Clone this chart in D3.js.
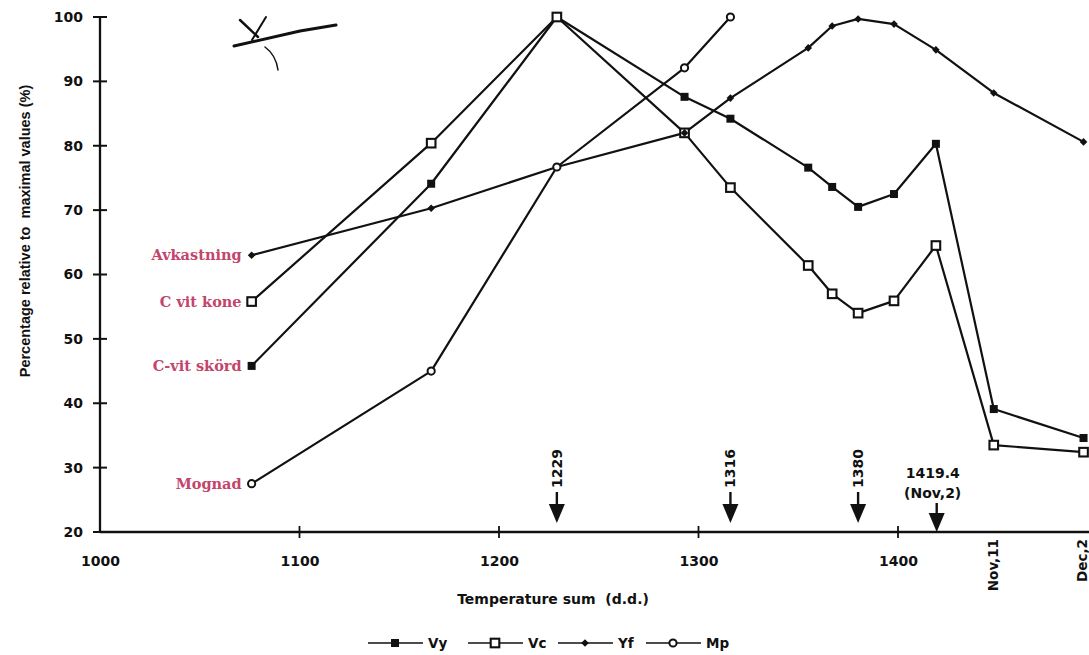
<!DOCTYPE html>
<html>
<head>
<meta charset="utf-8">
<script src="https://cdn.jsdelivr.net/npm/d3@7/dist/d3.min.js"></script>
<style>
  html, body { margin: 0; padding: 0; background: #ffffff; }
  svg { display: block; }
  text { font-weight: bold; fill: #111; white-space: pre; }
</style>
</head>
<body>
<svg id="chart" width="1089" height="655"></svg>
<script>
// ---------- data ----------
const tempSums   = [1076, 1166, 1229, 1293, 1316, 1355, 1367, 1380, 1398, 1419, 1448, 1493];
const vyValues   = [45.8, 74.1, 100, 87.6, 84.2, 76.6, 73.6, 70.5, 72.5, 80.3, 39.1, 34.6];
const vcValues   = [55.8, 80.4, 100, 82.0, 73.5, 61.4, 57.0, 54.0, 55.9, 64.5, 33.5, 32.4];
const yfValues   = [63.0, 70.3, 76.7, 82.0, 87.4, 95.2, 98.6, 99.7, 98.9, 94.9, 88.2, 80.6];
const mpValues   = [27.5, 45.0, 76.7, 92.1, 100];
const seriesNames = ["Vy", "Vc", "Yf", "Mp"];
const startLabels = ["C-vit skörd", "C vit kone", "Avkastning", "Mognad"];
const xTickValues = [1000, 1100, 1200, 1300, 1400];
const xDateTickValues = [1448, 1493];
const xDateTickLabels = ["Nov,11", "Dec,2"];
const yTickValues = [20, 30, 40, 50, 60, 70, 80, 90, 100];
const arrowValues = [1229, 1316, 1380, 1419.4];
const arrowLabels = ["1229", "1316", "1380", "1419.4"];
const xTitle = "Temperature sum  (d.d.)";
const yTitle = "Percentage relative to  maximal values (%)";

// ---------- setup ----------
const svg = d3.select("#chart");
const x = d3.scaleLinear().domain([1000, 1400]).range([100, 898]);
const y = d3.scaleLinear().domain([20, 100]).range([532, 17]);
const ink = "#111";
const labelRed = "#c3456b";
const SANS = "'DejaVu Sans', sans-serif";
const NARROW = "'Liberation Sans', Arial, sans-serif";
const SERIF = "'DejaVu Serif', 'Liberation Serif', serif";

function sans(sel, size) {
  return sel.style("font-family", SANS).style("font-weight", "bold").style("font-size", size + "px").style("fill", ink);
}

// ---------- axes ----------
const yAxis = d3.axisLeft(y).tickValues(yTickValues).tickSize(0).tickPadding(17);
const gy = svg.append("g").attr("transform", `translate(${x(1000)},0)`).call(yAxis);
gy.select(".domain").remove();
sans(gy.selectAll("text"), 14);
svg.append("line").attr("x1", x(1000)).attr("x2", x(1000)).attr("y1", y(100)).attr("y2", y(20))
  .attr("stroke", ink).attr("stroke-width", 2.3);
svg.selectAll(".ytick").data(yTickValues).join("line")
  .attr("x1", x(1000) - 7).attr("x2", x(1000) + 7)
  .attr("y1", d => y(d)).attr("y2", d => y(d))
  .attr("stroke", ink).attr("stroke-width", 2);

const xAxis = d3.axisBottom(x).tickValues(xTickValues).tickSize(0).tickPadding(24).tickFormat(d3.format("d"));
const gx = svg.append("g").attr("transform", `translate(0,${y(20)})`).call(xAxis);
gx.select(".domain").remove();
sans(gx.selectAll("text"), 14);
svg.append("line").attr("x1", x(1000)).attr("x2", 1089).attr("y1", y(20)).attr("y2", y(20))
  .attr("stroke", ink).attr("stroke-width", 2.3);
svg.selectAll(".xtick").data(xTickValues.slice(1)).join("line")
  .attr("x1", d => x(d)).attr("x2", d => x(d))
  .attr("y1", y(20) - 6).attr("y2", y(20) + 6)
  .attr("stroke", ink).attr("stroke-width", 1.8);

// date tick labels (rotated)
sans(svg.selectAll(".dateLabel").data(xDateTickValues).join("text")
  .attr("transform", d => `translate(${Math.min(x(d) + 4, 1087)},${y(20) + 7}) rotate(-90)`)
  .attr("text-anchor", "end")
  .text((d, i) => xDateTickLabels[i]), 13.5);

// axis titles
sans(svg.append("text").attr("x", 553).attr("y", 604).attr("text-anchor", "middle").text(xTitle), 14);
svg.append("text").attr("transform", `translate(30,${231}) rotate(-90)`).attr("text-anchor", "middle")
  .style("font-family", NARROW).style("font-weight", "bold").style("font-size", "14.5px").style("fill", ink)
  .text(yTitle);

// ---------- lines ----------
const line = d3.line().x(d => x(d[0])).y(d => y(d[1]));
const allSeries = [vyValues, vcValues, yfValues, mpValues].map(vals => vals.map((v, i) => [tempSums[i], v]));

svg.selectAll(".series").data(allSeries).join("path")
  .attr("d", line).attr("fill", "none").attr("stroke", ink).attr("stroke-width", 2.2)
  .attr("stroke-linejoin", "round");

// markers
function drawMarker(sel, type) {
  if (type === "Vy") {
    sel.append("rect").attr("x", -4).attr("y", -4).attr("width", 8).attr("height", 8).attr("fill", ink);
  } else if (type === "Vc") {
    sel.append("rect").attr("x", -4.3).attr("y", -4.3).attr("width", 8.6).attr("height", 8.6)
      .attr("fill", "#fff").attr("stroke", ink).attr("stroke-width", 2.1);
  } else if (type === "Yf") {
    sel.append("path").attr("d", "M0,-3.8L3.8,0L0,3.8L-3.8,0Z").attr("fill", ink);
  } else {
    sel.append("circle").attr("r", 3.6).attr("fill", "#fff").attr("stroke", ink).attr("stroke-width", 2);
  }
}
allSeries.forEach((pts, si) => {
  const g = svg.append("g");
  pts.forEach(p => {
    const m = g.append("g").attr("transform", `translate(${x(p[0])},${y(p[1])})`);
    drawMarker(m, seriesNames[si]);
  });
});

// start labels (red serif)
allSeries.forEach((pts, si) => {
  svg.append("text")
    .attr("x", x(pts[0][0]) - 10).attr("y", y(pts[0][1]) + 5)
    .attr("text-anchor", "end")
    .style("font-family", SERIF).style("font-weight", "bold").style("font-size", "14.5px")
    .style("fill", labelRed)
    .text(startLabels[si]);
});

// ---------- arrow annotations ----------
arrowValues.forEach((v, i) => {
  const ax = x(v);
  const isLast = i === arrowValues.length - 1;
  const top = isLast ? y(20) - 29 : y(20) - 40;
  const tip = y(20) - (isLast ? 0 : 9);
  svg.append("line").attr("x1", ax).attr("x2", ax).attr("y1", top).attr("y2", tip - 10)
    .attr("stroke", ink).attr("stroke-width", 2.4);
  svg.append("path").attr("d", `M${ax - 8},${tip - 19}L${ax + 8},${tip - 19}L${ax},${tip}Z`).attr("fill", ink);
  if (isLast) {
    sans(svg.append("text").attr("x", ax - 4).attr("y", top - 25).attr("text-anchor", "middle").text(arrowLabels[i]), 14);
    sans(svg.append("text").attr("x", ax - 4).attr("y", top - 5).attr("text-anchor", "middle").text("(Nov,2)"), 14);
  } else {
    sans(svg.append("text").attr("transform", `translate(${ax + 5},${top - 4}) rotate(-90)`)
      .attr("text-anchor", "start").text(arrowLabels[i]), 14);
  }
});

// ---------- legend ----------
const legendX = [368, 468, 558, 646];
const legendY = 643;
seriesNames.forEach((name, i) => {
  const lx = legendX[i];
  svg.append("line").attr("x1", lx).attr("x2", lx + 55).attr("y1", legendY).attr("y2", legendY)
    .attr("stroke", ink).attr("stroke-width", 1.6);
  const m = svg.append("g").attr("transform", `translate(${lx + 27},${legendY})`);
  drawMarker(m, name);
  sans(svg.append("text").attr("x", lx + 60).attr("y", legendY + 5).text(name), 13.5);
});

// ---------- hand-drawn mark from the original scan ----------
const scribble = svg.append("g").attr("stroke", ink).attr("fill", "none").attr("stroke-linecap", "round");
scribble.append("path").attr("d", "M234,46 L300,31 L336,25").attr("stroke-width", 3);
scribble.append("path").attr("d", "M240,20 L258,37").attr("stroke-width", 2.5);
scribble.append("path").attr("d", "M266,17 L252,40").attr("stroke-width", 2);
scribble.append("path").attr("d", "M265,47 Q276,55 278,70").attr("stroke-width", 1.5);
</script>
</body>
</html>
